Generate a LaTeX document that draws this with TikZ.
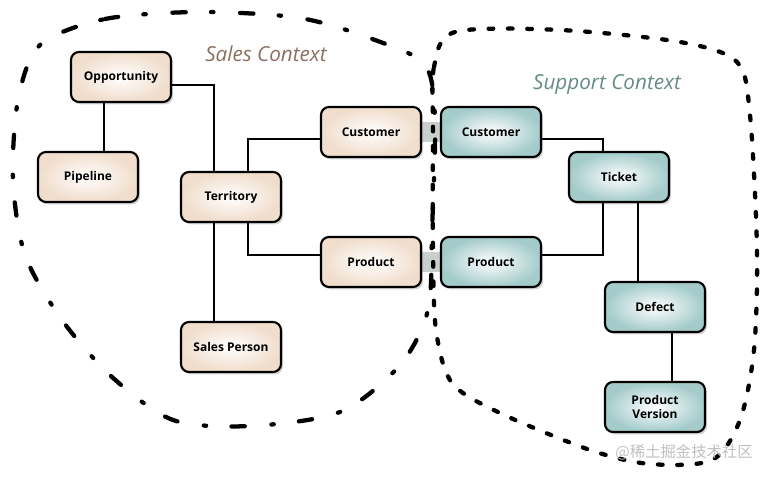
\documentclass[tikz,border=0pt]{standalone}
\usepackage{fontspec}
\setmainfont{Open Sans}
\newfontfamily\wmfont{Noto Sans CJK SC}
\usepackage{xcolor}
\usetikzlibrary{calc,positioning,shadows,backgrounds}
\definecolor{salesedge}{RGB}{240,221,203}
\definecolor{supedge}{RGB}{163,203,202}
\definecolor{salestext}{RGB}{139,111,97}
\definecolor{suptext}{RGB}{101,139,134}
\definecolor{bandgray}{RGB}{200,208,203}

\begin{document}
\begin{tikzpicture}[x=0.75pt,y=-0.75pt,
  entity/.style={draw=black, line width=1.6pt, rounded corners=6pt,
    minimum width=75pt, minimum height=37.5pt, align=center,
    font=\fontsize{9}{11}\selectfont\bfseries,
    drop shadow={shadow xshift=1.5pt, shadow yshift=-1.8pt, opacity=0.35}},
  sales/.style={entity, inner color=white, outer color=salesedge},
  support/.style={entity, inner color=white, outer color=supedge},
  link/.style={line width=1.5pt},
  band/.style={line width=15pt, bandgray},
  ctxlabel/.style={font=\fontsize{15.5}{18}\selectfont\itshape}]
\useasboundingbox (0,0) rectangle (772,478);

\draw[line width=3.2pt, line cap=round, dash pattern=on 10pt off 19pt on 1.8pt off 20pt]
  plot[smooth cycle] coordinates {(40,45) (105,19) (200,12) (300,18) (375,40)
  (425,65) (435,120) (432,230) (428,310) (400,365) (340,412) (250,426)
  (173,420) (112,377) (62,320) (25,255) (13,180) (18,100)};
\draw[line width=3.2pt, line cap=round, dash pattern=on 3.5pt off 11pt]
  plot[smooth cycle] coordinates {(433,130) (434,67) (455,32) (560,30) (680,42)
  (737,62) (750,115) (757,250) (754,350) (740,420) (712,460) (650,464)
  (590,450) (500,413) (452,383) (436,330) (433,250)};

\node[ctxlabel, salestext] (salesctx) at (266,54) {Sales Context};
\node[ctxlabel, suptext] (supctx) at (607,84) {Support Context};

\node[sales] (opp) at (121,77) {Opportunity};
\node[sales] (pipe) at (88,177) {Pipeline};
\node[sales] (terr) at (231,197) {Territory};
\node[sales] (salesp) at (231,347) {Sales Person};
\node[sales] (custS) at (371,132) {Customer};
\node[sales] (prodS) at (371,262) {Product};
\node[support] (custT) at (491,132) {Customer};
\node[support] (prodT) at (491,262) {Product};
\node[support] (ticket) at (619,177) {Ticket};
\node[support] (defect) at (655,307) {Defect};
\node[support] (pver) at (655,407) {Product\\Version};

\begin{scope}[on background layer]
\draw[band] (custS.east) -- (custT.west);
\draw[band] (prodS.east) -- (prodT.west);
\end{scope}

\coordinate (c1) at ($(opp.south)+(-17,0)$);
\coordinate (c2) at ($(terr.north)+(-17,0)$);
\coordinate (c3) at ($(terr.north)+(17,0)$);
\coordinate (c4) at ($(terr.south)+(17,0)$);
\coordinate (c5) at ($(terr.south)+(-17,0)$);
\coordinate (c6) at ($(ticket.north)+(-16,0)$);
\coordinate (c7) at ($(ticket.south)+(-16,0)$);
\coordinate (c8) at ($(defect.north)+(-17,0)$);
\coordinate (c9) at ($(defect.south)+(17,0)$);
\draw[link] (c1) -- (c1 |- pipe.north);
\draw[link] ($(opp.east)+(0,8)$) -| (c2);
\draw[link] (c3) |- ($(custS.west)+(0,7)$);
\draw[link] (c4) |- ($(prodS.west)+(0,-7)$);
\draw[link] (c5) -- (c5 |- salesp.north);
\draw[link] ($(custT.east)+(0,7)$) -| (c6);
\draw[link] ($(prodT.east)+(0,-7)$) -| (c7);
\draw[link] (c8 |- ticket.south) -- (c8);
\draw[link] (c9) -- (c9 |- pver.north);

\node[font=\wmfont\fontsize{11.5}{13}\selectfont, text=black!25] (wm) at (684,452) {@稀土掘金技术社区};
\end{tikzpicture}
\end{document}
